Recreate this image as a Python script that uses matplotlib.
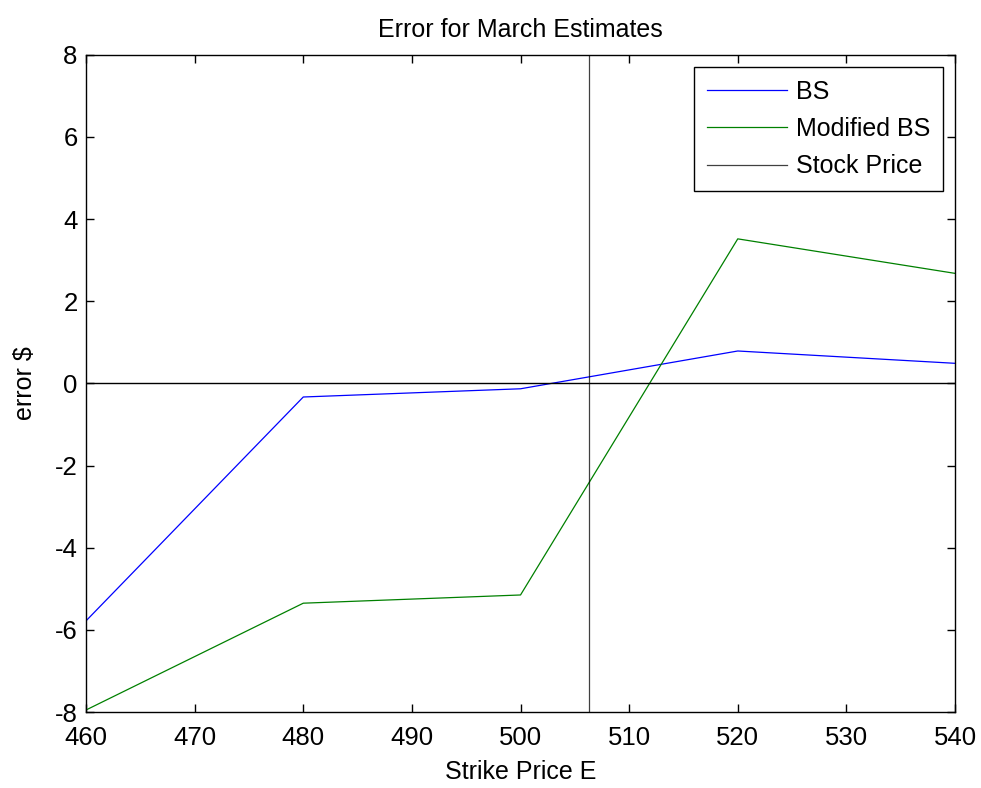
import matplotlib.pyplot as plt

plt.rcParams['font.family'] = ['Liberation Sans', 'DejaVu Sans']
plt.rcParams['axes.unicode_minus'] = False

# strike prices and estimation errors
strikes = [460, 480, 500, 520, 540]
bs_error = [-5.78, -0.33, -0.13, 0.79, 0.49]
mod_bs_error = [-7.95, -5.35, -5.15, 3.52, 2.68]
stock_price = 506.3

fig = plt.figure(figsize=(9.81, 7.88), dpi=100)
ax = fig.add_axes([0.0877, 0.0964, 0.8858, 0.834])

ax.plot(strikes, bs_error, color='#0000ff', lw=0.9, label='BS')
ax.plot(strikes, mod_bs_error, color='#008000', lw=0.9, label='Modified BS')
ax.axvline(stock_price, color='k', lw=0.9, alpha=0.75, label='Stock Price')
ax.axhline(0, color='k', lw=1.0)

ax.set_xlim(460, 540)
ax.set_ylim(-8, 8)
ax.set_xticks(range(460, 541, 10))
ax.set_yticks(range(-8, 9, 2))
ax.tick_params(direction='in', top=True, right=True, labelsize=18.5, length=6, width=1)
ax.tick_params(axis='x', pad=10)
ax.tick_params(axis='y', pad=6)
for s in ax.spines.values():
    s.set_linewidth(1.0)

ax.set_title('Error for March Estimates', fontsize=18, pad=13)
ax.set_xlabel('Strike Price E', fontsize=18, labelpad=7)
ax.set_ylabel('error $', fontsize=18, labelpad=13)

leg = ax.legend(loc='upper right', fontsize=18, fancybox=False, edgecolor='k',
                framealpha=1, handlelength=3.2, handletextpad=0.35,
                labelspacing=0.53, borderaxespad=0.5, borderpad=0.5)
leg.get_frame().set_linewidth(1.0)

fig.savefig('out.png', dpi=100)
